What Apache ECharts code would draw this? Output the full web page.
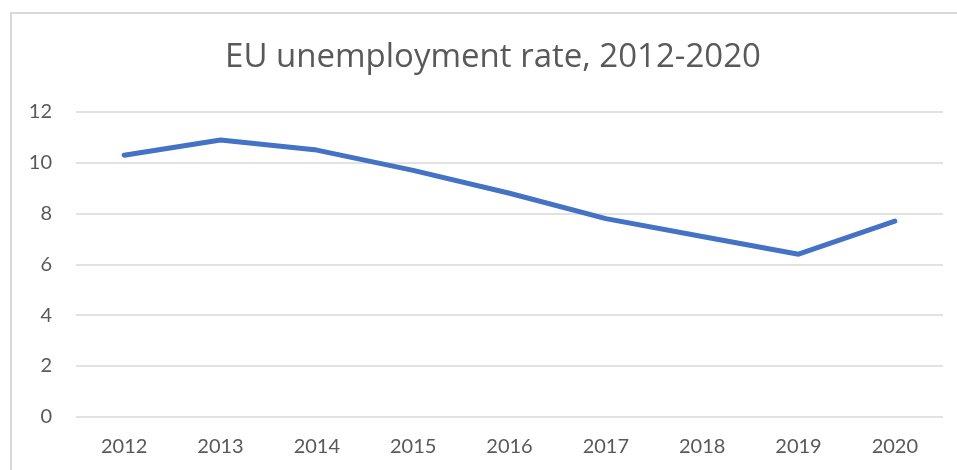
<!DOCTYPE html>
<html>
<head>
<meta charset="utf-8">
<title>EU unemployment rate, 2012-2020</title>
<script src="https://cdn.jsdelivr.net/npm/echarts@6/dist/echarts.min.js"></script>
<style>
  html, body { margin: 0; padding: 0; background: #ffffff; }
  #chart { width: 957px; height: 470px; }
</style>
</head>
<body>
<div id="chart"></div>
<script>
// Years on the category axis
const years = ['2012', '2013', '2014', '2015', '2016', '2017', '2018', '2019', '2020'];
// Unemployment rate, %
const unemploymentRate = [10.3, 10.9, 10.5, 9.7, 8.8, 7.8, 7.1, 6.4, 7.7];
// Value axis ticks
const yTicks = [0, 2, 4, 6, 8, 10, 12];

const FONT = 'Lato';
const TITLE_FONT = 'Open Sans';
const TEXT_GREY = '#595959';
const GRID_GREY = '#d9d9d9';

const chart = echarts.init(document.getElementById('chart'), null, { renderer: 'canvas' });

chart.setOption({
  backgroundColor: '#ffffff',
  animation: false,
  title: {
    text: 'EU unemployment rate, 2012-2020',
    left: 488,
    textAlign: 'center',
    top: 36,
    textStyle: {
      fontFamily: TITLE_FONT,
      fontWeight: 'normal',
      fontSize: 33,
      color: TEXT_GREY
    }
  },
  graphic: [{
    type: 'rect',
    silent: true,
    shape: { x: 11, y: 13, width: 980, height: 500 },
    style: { fill: 'none', stroke: GRID_GREY, lineWidth: 2 }
  }],
  grid: { left: 76, right: 14, top: 112, bottom: 53.3, containLabel: false },
  xAxis: {
    type: 'category',
    data: years,
    boundaryGap: true,
    axisLine: { show: false },
    axisTick: { show: false },
    axisLabel: {
      margin: 20,
      fontFamily: FONT,
      fontSize: 20,
      color: TEXT_GREY
    }
  },
  yAxis: {
    type: 'value',
    min: yTicks[0],
    max: yTicks[yTicks.length - 1],
    interval: 2,
    axisLine: { show: false },
    axisTick: { show: false },
    axisLabel: {
      margin: 24,
      fontFamily: FONT,
      fontSize: 20,
      color: TEXT_GREY
    },
    splitLine: { lineStyle: { color: GRID_GREY, width: 1.5 } }
  },
  series: [{
    type: 'line',
    data: unemploymentRate,
    symbol: 'none',
    smooth: false,
    lineStyle: { color: '#4472c4', width: 5, cap: 'round', join: 'round' }
  }]
});
</script>
</body>
</html>
